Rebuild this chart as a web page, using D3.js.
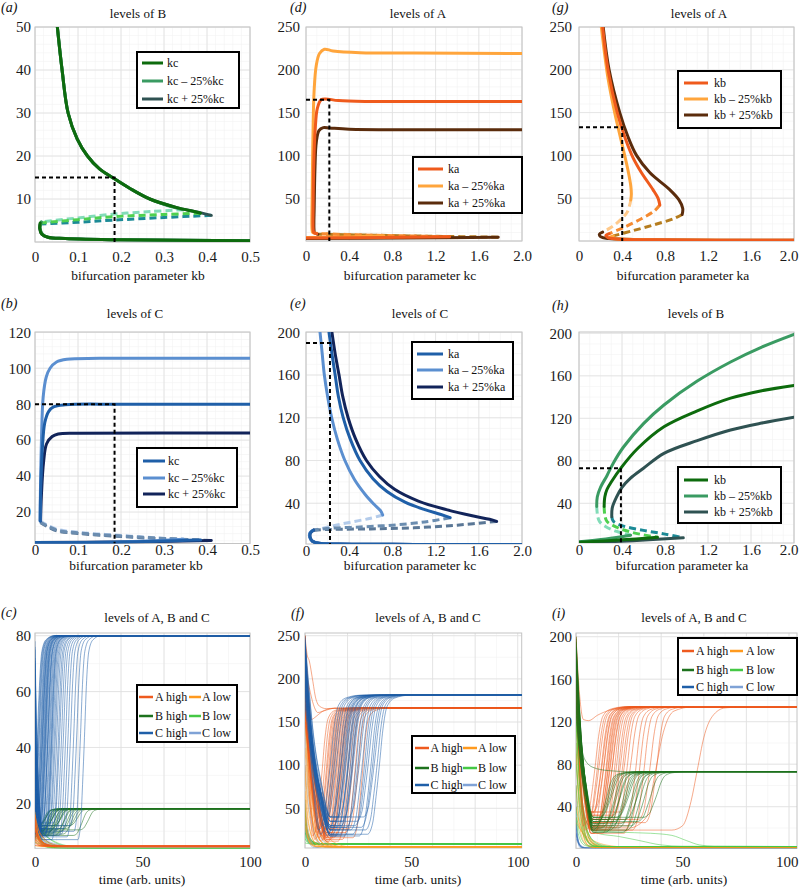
<!DOCTYPE html>
<html><head><meta charset="utf-8">
<script src="https://cdn.jsdelivr.net/npm/d3@7"></script>
<style>
body{margin:0;background:#fff}
text{font-family:"Liberation Serif","Times New Roman",serif}
</style>
</head><body>
<svg id="chart" width="799" height="888" xmlns="http://www.w3.org/2000/svg"></svg>
<script>
// ---------------- tick labels ----------------
const ticksKb = [0, 0.1, 0.2, 0.3, 0.4, 0.5];
const ticksKbLabels = ['0', '0.1', '0.2', '0.3', '0.4', '0.5'];
const ticksK2 = [0, 0.4, 0.8, 1.2, 1.6, 2.0];
const ticksK2Labels = ['0', '0.4', '0.8', '1.2', '1.6', '2.0'];
const ticksT = [0, 50, 100];
const ticksTLabels = ['0', '50', '100'];
const yTicksA = [10, 20, 30, 40, 50];
const yTicksD = [50, 100, 150, 200, 250];
const yTicksB = [20, 40, 60, 80, 100, 120];
const yTicksE = [40, 80, 120, 160, 200];
const yTicksC = [20, 40, 60, 80];
const yTicksF = [50, 100, 150, 200, 250];
const yTicksI = [40, 80, 120, 160, 200];

const legendKc = ['kc', 'kc \u2013 25%kc', 'kc + 25%kc'];
const legendKa = ['ka', 'ka \u2013 25%ka', 'ka + 25%ka'];
const legendKb = ['kb', 'kb \u2013 25%kb', 'kb + 25%kb'];
const legendTS = ['A high', 'A low', 'B high', 'B low', 'C high', 'C low'];

// ---------------- panel (a): B vs kb ----------------
const a_up_base = [[0.052,50],[0.063,40],[0.077,30],[0.098,24],[0.122,20],[0.15,17],[0.18,15],[0.22,12.5],[0.267,10],[0.33,8],[0.37,7.1],[0.385,6.7]];
const a_up_m    = [[0.052,50],[0.063,40],[0.077,30],[0.098,24],[0.122,20],[0.15,17],[0.18,15],[0.22,12.5],[0.267,10],[0.31,8.4],[0.345,7.5]];
const a_up_p    = [[0.052,50],[0.063,40],[0.077,30],[0.098,24],[0.122,20],[0.15,17],[0.18,15],[0.22,12.5],[0.267,10],[0.33,8],[0.38,6.9],[0.41,6.2]];
const a_un_m    = [[0.345,7.5],[0.27,7.1],[0.185,6.5],[0.1,5.6],[0.015,4.7]];
const a_un_base = [[0.385,6.7],[0.3,6.4],[0.185,5.9],[0.1,5.2],[0.012,4.4]];
const a_un_p    = [[0.41,6.2],[0.3,5.7],[0.185,5.1],[0.1,4.6],[0.012,4.2]];
const a_lo_m    = [[0.015,4.7],[0.012,3.3],[0.017,1.9],[0.03,1.1],[0.07,0.8],[0.2,0.5],[0.5,0.3]];
const a_lo_p    = [[0.012,4.2],[0.011,3.1],[0.016,1.8],[0.03,1.1],[0.07,0.8],[0.2,0.5],[0.5,0.3]];
const a_lo_base = [[0.012,4.4],[0.011,3.2],[0.016,1.8],[0.03,1.1],[0.07,0.8],[0.2,0.5],[0.5,0.3]];
const a_ref = [0.185, 15];

// ---------------- panel (d): A vs kc ----------------
const d_up_m    = [[0.095,9],[0.062,10],[0.056,14],[0.057,50],[0.064,120],[0.075,175],[0.095,205],[0.125,219],[0.17,224],[0.25,222],[0.5,220],[1.0,219.5],[2,219]];
const d_up_base = [[0.1,8.5],[0.072,10],[0.066,14],[0.066,40],[0.072,90],[0.085,130],[0.105,155],[0.14,165],[0.18,166],[0.3,164],[0.6,163],[1.2,163],[2,163]];
const d_up_p    = [[0.11,8],[0.08,9.5],[0.074,14],[0.076,40],[0.083,85],[0.095,115],[0.12,129],[0.16,132.5],[0.22,132],[0.4,130.5],[1,130],[2,130]];
const d_un_m    = [[0.72,6],[0.5,7],[0.3,8],[0.095,9]];
const d_un_base = [[1.33,5],[0.9,6],[0.5,7],[0.1,8.5]];
const d_un_p    = [[1.78,4.5],[1.2,5.5],[0.6,6.8],[0.11,8]];
const d_lo_m    = [[0,4.2],[0.4,4.8],[0.72,6]];
const d_lo_base = [[0,3.6],[0.7,4],[1.33,5]];
const d_lo_p    = [[0,3],[0.9,3.4],[1.78,4.5]];
const d_ref = [0.216, 165];

// ---------------- panel (g): A vs ka ----------------
const g_up_m    = [[0.208,250],[0.27,190],[0.332,150],[0.425,100],[0.46,80],[0.482,64],[0.487,55],[0.482,48]];
const g_up_base = [[0.22,250],[0.27,200],[0.356,150],[0.43,120],[0.5,98],[0.58,80],[0.688,60],[0.735,50],[0.752,42]];
const g_up_p    = [[0.225,250],[0.28,200],[0.379,150],[0.455,122],[0.535,100],[0.658,80],[0.844,60],[0.93,48],[0.965,38],[0.96,31]];
const g_un_m    = [[0.482,48],[0.45,34],[0.38,24],[0.3,16],[0.22,10.5]];
const g_un_base = [[0.752,42],[0.7,35],[0.58,26],[0.42,16],[0.28,8.5]];
const g_un_p    = [[0.96,31],[0.88,26],[0.7,19],[0.5,12],[0.32,6]];
const g_lo_m    = [[0.22,10.5],[0.19,8],[0.2,5],[0.28,2.8],[0.6,1.5],[2,0.8]];
const g_lo_base = [[0.28,8.5],[0.25,6.5],[0.27,4],[0.35,2.4],[0.7,1.4],[2,0.8]];
const g_lo_p    = [[0.32,6],[0.29,4.6],[0.32,3],[0.45,2],[0.9,1.2],[2,0.8]];
const g_ref = [0.402, 133];

// ---------------- panel (b): C vs kb ----------------
const b_up_m    = [[0.012,15],[0.0125,30],[0.015,60],[0.019,84],[0.026,95],[0.035,100],[0.05,103.5],[0.074,105],[0.15,105.5],[0.5,105.5]];
const b_up_base = [[0.012,15],[0.013,30],[0.017,55],[0.023,70],[0.032,76],[0.043,78.5],[0.07,79.7],[0.2,80],[0.5,80]];
const b_up_p    = [[0.013,15],[0.015,30],[0.02,48],[0.027,58],[0.04,62],[0.054,63.4],[0.1,63.8],[0.5,64]];
const b_un_m    = [[0.012,15],[0.05,10.5],[0.1,8.7],[0.185,7.2],[0.28,5.7],[0.345,4.8]];
const b_un_base = [[0.012,14.5],[0.05,10],[0.1,8.4],[0.185,6.9],[0.3,5.3],[0.385,4.4]];
const b_un_p    = [[0.013,14],[0.05,9.6],[0.1,8.1],[0.185,6.6],[0.3,5.1],[0.41,4.2]];
const b_lo_m    = [[0,3.0],[0.2,3.3],[0.345,4.8]];
const b_lo_base = [[0,3.0],[0.2,3.3],[0.385,4.4]];
const b_lo_p    = [[0,3.0],[0.2,3.3],[0.41,4.2]];
const b_ref = [0.185, 80];

// ---------------- panel (e): C vs kc ----------------
const e_up_m    = [[0.13,200],[0.15,180],[0.17,160],[0.2,140],[0.238,120],[0.29,100],[0.36,80],[0.45,62],[0.55,48],[0.63,39],[0.69,33],[0.71,29]];
const e_up_base = [[0.213,200],[0.24,180],[0.27,160],[0.3,140],[0.345,120],[0.41,100],[0.5,80],[0.62,63],[0.75,51],[0.917,41],[1.1,34],[1.25,29.5],[1.335,26.5]];
const e_up_p    = [[0.24,200],[0.27,180],[0.306,160],[0.34,140],[0.39,120],[0.46,100],[0.56,80],[0.68,65],[0.82,53],[1.04,42],[1.3,34],[1.55,28],[1.7,25],[1.765,23]];
const e_un_m    = [[0.71,29],[0.6,26],[0.45,23],[0.3,20],[0.15,16.5],[0.06,14.5]];
const e_un_base = [[1.335,26.5],[1.1,22.5],[0.8,19.5],[0.5,17.8],[0.22,16.5],[0.07,15]];
const e_un_p    = [[1.765,23],[1.4,19.5],[1.0,17],[0.6,16],[0.22,15.5],[0.07,14.8]];
const e_lo_m    = [[0.06,14.5],[0.035,12],[0.035,8],[0.06,4.5],[0.12,2.5],[0.3,1.8],[1,1.5],[2,1.5]];
const e_lo_base = [[0.07,15],[0.04,12],[0.038,8],[0.06,4.5],[0.12,2.5],[0.3,1.8],[1,1.5],[2,1.5]];
const e_lo_p    = [[0.07,14.8],[0.04,12],[0.038,8],[0.06,4.5],[0.12,2.5],[0.3,1.8],[1,1.5],[2,1.5]];
const e_ref = [0.222, 190];

// ---------------- panel (h): B vs ka ----------------
const h_up_m    = [[0.165,37],[0.17,46],[0.2,55],[0.26,66],[0.32,78],[0.414,93],[0.6,115],[0.79,132.5],[1.1,155],[1.41,173],[1.7,187],[2.0,199]];
const h_up_base = [[0.234,37],[0.24,46],[0.26,53],[0.3,60],[0.4,74.5],[0.55,92],[0.79,112],[1.1,127],[1.41,139],[1.7,146],[2.0,151]];
const h_up_p    = [[0.305,27.4],[0.31,36],[0.35,46],[0.4,55],[0.477,63.5],[0.6,73],[0.79,87],[1.1,99],[1.41,109],[1.7,115.5],[2.0,121]];
const h_un_m    = [[0.165,37],[0.172,29],[0.19,23],[0.25,18],[0.35,13.5],[0.48,10]];
const h_un_base = [[0.234,37],[0.24,29],[0.26,23],[0.35,17.5],[0.5,12.5],[0.73,8]];
const h_un_p    = [[0.305,27.4],[0.32,23],[0.4,19],[0.6,14.5],[0.8,11],[0.97,7.5]];
const h_lo_m    = [[0,3.8],[0.25,6.5],[0.48,10]];
const h_lo_base = [[0,3.4],[0.4,5.6],[0.73,8]];
const h_lo_p    = [[0,2.6],[0.5,4.8],[0.97,7.5]];
const h_ref = [0.39, 73];

// ---------------- time-series key-point shapes ----------------
const dropShape  = [[0,1],[0.3,0.5],[0.65,0.18],[1,0]];
const riseShape  = [[-1.4,0],[-0.8,0.08],[-0.4,0.27],[0,0.5],[0.4,0.75],[0.9,0.92],[1.8,0.98],[3.5,1]];
const decayShape = [[0,1],[0.3,0.55],[0.7,0.27],[1.2,0.1],[2,0.02],[3,0]];

// ---------------- panel (c) ----------------
const c_Chigh_start  = [12,8,15,20,25,78,75,72,70,66,62,58,55,52,48,45,42,40,38,35,32,30,28,25,22,20,18,15,12,10,76,68,60,54,46,36,26,16,71,50];
const c_Chigh_switch = [1.2,1.5,1.8,2.1,2.5,2.8,3.1,3.4,3.7,4.0,4.3,4.6,4.9,5.2,5.5,5.9,6.3,6.7,7.1,7.5,8.0,8.5,9.0,9.6,10.2,10.9,11.6,12.4,13.3,14.3,15.4,16.6,18.0,19.5,21.2,23.0,3.6,4.8,6.1,7.8];
const c_Chigh_low    = [9,11,8,12,10,7,13,9.5,10.5,8.5];
const c_Bhigh_start  = [17,16,15,14,13,12,11,10,9,8,16.5,15.5,14.5,13.5,12.5,11.5,10.5,9.5,8.5,7.5,17,15,13,11,9,16,14];
const c_Bhigh_switch = [4,4.4,4.8,5.2,5.6,6,6.5,7,7.5,8,8.5,9,9.5,10,10.6,11.2,11.8,12.5,13.2,14,15,16,17,18.5,20,22,25];
const c_Bhigh_low    = [10,9,11,12,8.5,10.5,9.5];
const c_Blow_start   = [17,15,13,11,9,16,14,12,10,8,6,15,12,10];
const c_Blow_tau     = [3,4,5,6,8,10,12,4,6,9,14,7,5,11];
const c_Ahigh_start  = [16,14,12,10,8,6,15,13,11,9,7,5];
const c_Ahigh_tau    = [2,3,4,5,3,2,6,4,3,5,2,4];
const c_Alow_start   = [17,15,13,11,9,7,5,16,12,8,14];
const c_Alow_tau     = [2.5,3.5,2,4,3,2,1.5,5,3,2.5,4];
const c_Clow_start   = [12,9,15,7,10];
const c_Clow_tau     = [6,10,5,8,12];
const c_levels = {Chigh: 80, Bhigh: 18.1, Blow: 3.9, Ahigh: 4.7, Alow: 4.5, Clow: 4.2};

// ---------------- panel (f) ----------------
const f_Chigh_start  = [250,245,240,235,230,225,220,215,210,205,200,195,190,248,238,228,218,208,198,188,242,232,222,212,202,192,185,180,175,170];
const f_Chigh_switch = [12,13,14,15,16,17,17.5,18,18.5,19,19.5,20,20.5,21,21.5,22,22.5,23,24,25,26,27,28,29,30,31,32,33,34,35];
const f_Chigh_low    = [25,20,30,35,18,28,40];
const f_Ahigh_start  = [250,240,230,220,210,200,190,180,170,160,150,245,235,225,215,205,195,185,175,165,155,248,228,208,188,168];
const f_Ahigh_switch = [8,9,10,10.5,11,11.5,12,12.5,13,13.5,14,14.5,15,15.5,16,16.5,17,17.5,18,19,20,21,22,23.5,25,27];
const f_Ahigh_low    = [18,14,22,26,16,20,12];
const f_Ahigh_extra  = [
  [[0,250],[1,228],[2,221],[3.5,200],[5,178],[7,168],[10,165.5],[14,166]],
  [[0,250],[1.5,185],[3,153],[5,156],[8,162],[12,165.5],[16,166]],
  [[0,215],[2,190],[4,170],[6,161],[9,163],[14,166]]
];
const f_Alow_start   = [250,220,200,180,150,120,90,60,40,30,240,160,100,70,50];
const f_Alow_tau     = [4,5,3.5,6,4.5,5,3,2.5,2,3,7,6,4,3.5,2];
const f_Blow_start   = [60,50,45,40,35,30,25,20,15,10,55,42,28];
const f_Blow_tau     = [1.5,2,2.5,1.2,3,2,1.8,1.5,2,3,1,2.2,4];
const f_Bhigh_start  = [48,38,22];
const f_Bhigh_tau    = [2,3,4];
const f_Clow_start   = [230,200,150,100,60,40,30];
const f_Clow_tau     = [5,6,4,5,3,3,2.5];
const f_levels = {Chigh: 181, Ahigh: 166, Alow: 5.5, Blow: 8.6, Bhigh: 8.6, Clow: 3.5};

// ---------------- panel (i) ----------------
const i_Ahigh_start  = [200,195,190,185,180,175,170,165,160,155,150,198,188,178,168,158,148,193,183,173,163,153,145,140,196,186,176,166];
const i_Ahigh_switch = [9,10,11,12,12.5,13,13.5,14,14.5,15,15.5,16,16.5,17,17.5,18,19,20,21,22,23,24,26,28,30,32,35,38];
const i_Ahigh_low    = [22,18,28,25,32,20,35,15];
const i_Ahigh_extra  = [
  [[0,160],[3,40],[6,20],[20,18],[45,18],[50,22],[54,45],[57,75],[60,105],[64,125],[70,133],[80,134]],
  [[0,200],[1.5,150],[3.5,122],[6,121],[10,126],[16,131],[25,134]],
  [[0,175],[3,45],[6,22],[25,20],[33,30],[37,70],[41,110],[46,130],[55,134]]
];
const i_Bhigh_start  = [200,190,180,170,160,150,140,130,195,185,175,165,155,145,135,125,198,178,158,138];
const i_Bhigh_switch = [14,15,16,17,18,19,20,21,22,23,24,25,26,27,28,29,30,32,35,38];
const i_Bhigh_low    = [18,22,26,30,20,24,16,28];
const i_Bhigh_extra  = [[[0,190],[2,110],[4,85],[8,77],[15,74],[25,73]]];
const i_Blow_start   = [200,150,120,100,80,60,40,30];
const i_Blow_tau     = [3,4,5,3.5,6,4,3,2.5];
const i_Blow_extra   = [
  [[0,190],[3,45],[7,18],[20,16],[35,15],[45,13],[52,8],[58,4],[65,2.8]],
  [[0,120],[4,30],[10,15],[20,12],[30,8],[40,4],[50,2.8]]
];
const i_Alow_start   = [190,170,150,120,90,60,40,30,25,180,140,100];
const i_Alow_tau     = [3,4,3.5,5,4,3,6,8,12,2.5,4.5,3];
const i_Clow_start   = [40,30,20,15,10,60];
const i_Clow_tau     = [1,1.5,2,2.5,3,0.8];
const i_Chigh_start  = [25,15];
const i_Chigh_tau    = [1.5,2];
const i_levels = {Ahigh: 134, Bhigh: 73, Blow: 2.5, Alow: 1.5, Clow: 1, Chigh: 1};

// ---------------- colours ----------------
const COL = {
  green: {base:'#0d6b0d', m:'#3a9b62', p:'#2f5252', dbase:'#4fd04f', dm:'#82dcb8', dp:'#1b8a96'},
  orange:{base:'#ef5a1c', m:'#ffa53c', p:'#5b2c0c', dbase:'#f58a30', dm:'#ffc98a', dp:'#b57c1e'},
  blue:  {base:'#1f5fa8', m:'#5b8fd0', p:'#12245a', dbase:'#6b8db0', dm:'#b3cbea', dp:'#5a7796'}
};
const TS = {Ahigh:'#ee5a1f', Alow:'#ff9a1f', Bhigh:'#1d721d', Blow:'#45c845', Chigh:'#1f5fa8', Clow:'#7fa2d6'};

// ---------------- builders ----------------
function riseTraj(start, low, tSw, w, plateau, dipMax, tEnd) {
  const tDip = Math.max(0.3, Math.min(dipMax, tSw - 1.4 * w));
  const pts = dropShape.map(([f, v]) => [f * tDip, low + v * (start - low)]);
  riseShape.forEach(([f, v]) => {
    const t = tSw + f * w;
    if (t > tDip + 0.1) pts.push([t, low + v * (plateau - low)]);
  });
  if (pts[pts.length - 1][0] < tEnd) pts.push([tEnd, plateau]);
  return pts;
}
function decayTraj(start, tau, plateau, tEnd) {
  const pts = decayShape.map(([f, v]) => [f * tau, plateau + v * (start - plateau)]);
  pts.push([tEnd, plateau]);
  return pts;
}
function extend(pts, level, tEnd) { return pts.concat([[tEnd, level]]); }

const svg = d3.select('#chart');
const defs = svg.append('defs');
const FONT = '"Liberation Serif","Times New Roman",serif';
const PAGE_RIGHT = 798;

function gridValues(lo, hi, step) {
  const a = Math.ceil(lo / step - 1e-6), b = Math.floor(hi / step + 1e-6);
  return d3.range(a, b + 1).map(k => +(k * step).toFixed(6));
}

function drawPanel(p) {
  const [L, T, R, B] = p.rect;
  const g = svg.append('g');
  const x = d3.scaleLinear().domain(p.xDomain).range(p.xRange);
  const y = d3.scaleLinear().domain(p.yDomain).range(p.yRange);
  const clipId = 'clip-' + p.id;
  defs.append('clipPath').attr('id', clipId).append('rect')
    .attr('x', L).attr('y', T).attr('width', R - L).attr('height', B - T);

  const xLo = x.invert(L), xHi = x.invert(R), yLo = y.invert(B), yHi = y.invert(T);
  const gg = g.append('g');
  gridValues(xLo, xHi, p.gridX[1]).forEach(v => gg.append('line').attr('x1', x(v)).attr('x2', x(v)).attr('y1', T).attr('y2', B).attr('stroke', '#f1f1f1').attr('stroke-width', 0.6));
  gridValues(yLo, yHi, p.gridY[1]).forEach(v => gg.append('line').attr('y1', y(v)).attr('y2', y(v)).attr('x1', L).attr('x2', R).attr('stroke', '#f1f1f1').attr('stroke-width', 0.6));
  gridValues(xLo, xHi, p.gridX[0]).forEach(v => gg.append('line').attr('x1', x(v)).attr('x2', x(v)).attr('y1', T).attr('y2', B).attr('stroke', '#e0e0e0').attr('stroke-width', 0.8));
  gridValues(yLo, yHi, p.gridY[0]).forEach(v => gg.append('line').attr('y1', y(v)).attr('y2', y(v)).attr('x1', L).attr('x2', R).attr('stroke', '#e0e0e0').attr('stroke-width', 0.8));
  g.append('rect').attr('x', L).attr('y', T).attr('width', R - L).attr('height', B - T)
    .attr('fill', 'none').attr('stroke', '#c4c4c4').attr('stroke-width', 1);

  // axes
  const xAxis = d3.axisBottom(x).tickValues(p.xTicks).tickFormat((d, i) => p.xTickLabels[i]).tickSize(0).tickPadding(p.xPad);
  const xa = g.append('g').attr('transform', `translate(0,${B})`).call(xAxis);
  xa.select('.domain').remove();
  xa.selectAll('text').attr('font-family', FONT).attr('font-size', 15).attr('fill', '#1a1a1a');
  xa.selectAll('.tick').each(function(d) {
    const t = d3.select(this).select('text');
    const w = t.node().getComputedTextLength();
    if (x(d) + w / 2 > PAGE_RIGHT) t.attr('text-anchor', 'end').attr('x', PAGE_RIGHT - x(d));
  });
  const yAxis = d3.axisLeft(y).tickValues(p.yTicks).tickFormat(d3.format('d')).tickSize(0).tickPadding(L - p.yLabelRight);
  const ya = g.append('g').attr('transform', `translate(${L},0)`).call(yAxis);
  ya.select('.domain').remove();
  ya.selectAll('text').attr('font-family', FONT).attr('font-size', 15).attr('fill', '#1a1a1a');

  // curves
  const cg = g.append('g').attr('clip-path', `url(#${clipId})`);
  const line = d3.line().x(d => x(d[0])).y(d => y(d[1]));
  if (p.bif) {
    line.curve(d3.curveCatmullRom.alpha(0.5));
    p.curves.forEach(c => {
      cg.append('path').attr('d', line(c.data)).attr('fill', 'none')
        .attr('stroke', c.color).attr('stroke-width', 3)
        .attr('stroke-linecap', c.dash ? 'butt' : 'round').attr('stroke-linejoin', 'round')
        .attr('stroke-dasharray', c.dash ? '7,4' : null);
    });
    const [rx, ry] = p.ref;
    cg.append('path').attr('d', `M${L},${y(ry)}H${x(rx)}V${B}`).attr('fill', 'none')
      .attr('stroke', '#000').attr('stroke-width', 2).attr('stroke-dasharray', '4,3');
  } else {
    line.curve(d3.curveMonotoneX);
    p.groups.forEach(gr => {
      gr.trajs.forEach(t => {
        cg.append('path').attr('d', line(t)).attr('fill', 'none')
          .attr('stroke', gr.color).attr('stroke-width', 0.8).attr('stroke-opacity', 0.65);
      });
    });
  }

  // legend
  const lg = p.legend;
  g.append('rect').attr('x', lg.box[0]).attr('y', lg.box[1]).attr('width', lg.box[2] - lg.box[0]).attr('height', lg.box[3] - lg.box[1])
    .attr('fill', '#fff').attr('stroke', '#000').attr('stroke-width', 2);
  lg.items.forEach(it => {
    g.append('line').attr('x1', it.lx[0]).attr('x2', it.lx[1]).attr('y1', it.y).attr('y2', it.y)
      .attr('stroke', it.color).attr('stroke-width', lg.lw);
    g.append('text').attr('x', it.tx).attr('y', it.y + 4).attr('font-size', 12).attr('fill', '#111').text(it.label);
  });

  // titles
  g.append('text').attr('x', p.title[1]).attr('y', p.title[2]).attr('text-anchor', 'middle').attr('font-size', 13).attr('fill', '#111').text(p.title[0]);
  g.append('text').attr('x', p.tag[1]).attr('y', p.tag[2]).attr('font-size', 14).attr('font-style', 'italic').attr('fill', '#111').text(p.tag[0]);
  g.append('text').attr('x', p.xLabel[1]).attr('y', p.xLabel[2]).attr('text-anchor', 'middle').attr('font-size', 13.5).attr('fill', '#111').text(p.xLabel[0]);
}

function bifCurves(fam, up, un, lo) {
  const C = COL[fam];
  return [
    {data: un[1], color: C.dm, dash: true},
    {data: un[2], color: C.dp, dash: true},
    {data: un[0], color: C.dbase, dash: true},
    {data: lo[2], color: C.p}, {data: lo[1], color: C.m}, {data: lo[0], color: C.base},
    {data: up[2], color: C.p}, {data: up[1], color: C.m}, {data: up[0], color: C.base}
  ];
}
function bifLegend(labels, fam, box, rows, lx, tx) {
  const C = COL[fam];
  const cols = [C.base, C.m, C.p];
  return {box, lw: 3, items: labels.map((l, i) => ({label: l, color: cols[i], y: rows[i], lx, tx}))};
}
function tsLegend(box, rows, c1, c2) {
  const cols = [TS.Ahigh, TS.Alow, TS.Bhigh, TS.Blow, TS.Chigh, TS.Clow];
  return {box, lw: 2.5, items: legendTS.map((l, i) => {
    const c = i % 2 === 0 ? c1 : c2;
    return {label: l, color: cols[i], y: rows[Math.floor(i / 2)], lx: [c[0], c[1]], tx: c[2]};
  })};
}

// ---------------- bifurcation panels ----------------
drawPanel({id:'a', bif:true, rect:[35,27,250,242], xDomain:[0,0.5], xRange:[35,250], yDomain:[0,50], yRange:[242,27],
  xTicks:ticksKb, xTickLabels:ticksKbLabels, yTicks:yTicksA, xPad:9, yLabelRight:31, gridX:[0.1,0.02], gridY:[10,2],
  curves: bifCurves('green', [a_up_base,a_up_m,a_up_p], [a_un_base,a_un_m,a_un_p], [a_lo_base,a_lo_m,a_lo_p]), ref:a_ref,
  legend: bifLegend(legendKc, 'green', [137,52,239,108], [63,81,99], [142,163], 167),
  title:['levels of B',138,18], tag:['(a)',1,12], xLabel:['bifurcation parameter kb',138,280]});

drawPanel({id:'d', bif:true, rect:[306,27,522,241], xDomain:[0,2], xRange:[306,522], yDomain:[0,250], yRange:[241,27],
  xTicks:ticksK2, xTickLabels:ticksK2Labels, yTicks:yTicksD, xPad:9, yLabelRight:300, gridX:[0.4,0.1], gridY:[50,10],
  curves: bifCurves('orange', [d_up_base,d_up_m,d_up_p], [d_un_base,d_un_m,d_un_p], [d_lo_base,d_lo_m,d_lo_p]), ref:d_ref,
  legend: bifLegend(legendKa, 'orange', [413,157,522,213], [169,186,203], [418,443], 448),
  title:['levels of A',418,18], tag:['(d)',290,12], xLabel:['bifurcation parameter kc',410,280]});

drawPanel({id:'g', bif:true, rect:[579,27,794,241], xDomain:[0,2], xRange:[579,794], yDomain:[0,250], yRange:[241,27],
  xTicks:ticksK2, xTickLabels:ticksK2Labels, yTicks:yTicksD, xPad:9, yLabelRight:572, gridX:[0.4,0.1], gridY:[50,10],
  curves: bifCurves('orange', [g_up_base,g_up_m,g_up_p], [g_un_base,g_un_m,g_un_p], [g_lo_base,g_lo_p,g_lo_m]), ref:g_ref,
  legend: bifLegend(legendKb, 'orange', [678,71,781,128], [83,99,115], [684,708], 714),
  title:['levels of A',699,18], tag:['(g)',552,12], xLabel:['bifurcation parameter ka',683,280]});

drawPanel({id:'b', bif:true, rect:[35,332,250,543.5], xDomain:[0,0.5], xRange:[35,250], yDomain:[0,120], yRange:[548,332.3],
  xTicks:ticksKb, xTickLabels:ticksKbLabels, yTicks:yTicksB, xPad:1, yLabelRight:31, gridX:[0.1,0.02], gridY:[20,4],
  curves: bifCurves('blue', [b_up_base,b_up_m,b_up_p], [b_un_base,b_un_m,b_un_p], [b_lo_base,b_lo_m,b_lo_p]), ref:b_ref,
  legend: bifLegend(legendKc, 'blue', [137,448,237,507], [461,478,494], [143,165], 168),
  title:['levels of C',135,318], tag:['(b)',1,308], xLabel:['bifurcation parameter kb',136,570]});

drawPanel({id:'e', bif:true, rect:[306,332,522,544], xDomain:[0,2], xRange:[306,522], yDomain:[0,200], yRange:[546,332.3],
  xTicks:ticksK2, xTickLabels:ticksK2Labels, yTicks:yTicksE, xPad:1, yLabelRight:300, gridX:[0.4,0.1], gridY:[40,10],
  curves: bifCurves('blue', [e_up_base,e_up_m,e_up_p], [e_un_base,e_un_m,e_un_p], [e_lo_base,e_lo_m,e_lo_p]), ref:e_ref,
  legend: bifLegend(legendKa, 'blue', [412,342,513,399], [354,370,387], [417,443], 448),
  title:['levels of C',420,318], tag:['(e)',290,308], xLabel:['bifurcation parameter kc',410,570]});

drawPanel({id:'h', bif:true, rect:[579,332,794,543], xDomain:[0,2], xRange:[579,794], yDomain:[0,200], yRange:[545.8,333.3],
  xTicks:ticksK2, xTickLabels:ticksK2Labels, yTicks:yTicksE, xPad:1, yLabelRight:572, gridX:[0.4,0.1], gridY:[40,10],
  curves: bifCurves('green', [h_up_base,h_up_m,h_up_p], [h_un_base,h_un_m,h_un_p], [h_lo_base,h_lo_m,h_lo_p]), ref:h_ref,
  legend: bifLegend(legendKb, 'green', [678,467,781,523], [480,496,512], [684,708], 714),
  title:['levels of B',696,318], tag:['(h)',552,310], xLabel:['bifurcation parameter ka',682,570]});

// ---------------- time-series panels ----------------
const cEnd = 100, fEnd = 102, iEnd = 105;
const cGroups = [
  {color: TS.Blow,  trajs: c_Blow_start.map((s,i) => decayTraj(s, c_Blow_tau[i], c_levels.Blow, cEnd))},
  {color: TS.Bhigh, trajs: c_Bhigh_start.map((s,i) => riseTraj(s, c_Bhigh_low[i % c_Bhigh_low.length], c_Bhigh_switch[i], 3, c_levels.Bhigh, 4, cEnd))},
  {color: TS.Clow,  trajs: c_Clow_start.map((s,i) => decayTraj(s, c_Clow_tau[i], c_levels.Clow, cEnd))},
  {color: TS.Chigh, trajs: c_Chigh_start.map((s,i) => riseTraj(s, c_Chigh_low[i % c_Chigh_low.length], c_Chigh_switch[i], 2.2, c_levels.Chigh, 3, cEnd))},
  {color: TS.Alow,  trajs: c_Alow_start.map((s,i) => decayTraj(s, c_Alow_tau[i], c_levels.Alow, cEnd))},
  {color: TS.Ahigh, trajs: c_Ahigh_start.map((s,i) => decayTraj(s, c_Ahigh_tau[i], c_levels.Ahigh, cEnd))}
];
drawPanel({id:'c', bif:false, rect:[35,633,250,848.3], xDomain:[0,100], xRange:[35,250], yDomain:[0,80], yRange:[859.2,635.7],
  xTicks:ticksT, xTickLabels:ticksTLabels, yTicks:yTicksC, xPad:8, yLabelRight:31, gridX:[20,10], gridY:[20,10],
  groups: cGroups,
  legend: tsLegend([137,685,237,742], [697,716,733], [139,153,155], [189,201,202]),
  title:['levels of A, B and C',157,622], tag:['(c)',1,617], xLabel:['time (arb. units)',142,884]});

const fGroups = [
  {color: TS.Bhigh, trajs: f_Bhigh_start.map((s,i) => decayTraj(s, f_Bhigh_tau[i], f_levels.Bhigh, fEnd))},
  {color: TS.Blow,  trajs: f_Blow_start.map((s,i) => decayTraj(s, f_Blow_tau[i], f_levels.Blow, fEnd))},
  {color: TS.Clow,  trajs: f_Clow_start.map((s,i) => decayTraj(s, f_Clow_tau[i], f_levels.Clow, fEnd))},
  {color: TS.Alow,  trajs: f_Alow_start.map((s,i) => decayTraj(s, f_Alow_tau[i], f_levels.Alow, fEnd))},
  {color: TS.Ahigh, trajs: f_Ahigh_start.map((s,i) => riseTraj(s, f_Ahigh_low[i % f_Ahigh_low.length], f_Ahigh_switch[i], 3.2, f_levels.Ahigh, 10, fEnd))
      .concat(f_Ahigh_extra.map(t => extend(t, f_levels.Ahigh, fEnd)))},
  {color: TS.Chigh, trajs: f_Chigh_start.map((s,i) => riseTraj(s, f_Chigh_low[i % f_Chigh_low.length], f_Chigh_switch[i], 4, f_levels.Chigh, 12, fEnd))}
];
drawPanel({id:'f', bif:false, rect:[305,633,521.7,848], xDomain:[0,100], xRange:[305,517.7], yDomain:[0,250], yRange:[851.5,635.7],
  xTicks:ticksT, xTickLabels:ticksTLabels, yTicks:yTicksF, xPad:8, yLabelRight:300, gridX:[20,10], gridY:[50,25],
  groups: fGroups,
  legend: tsLegend([412,736,515,793], [748,768,785], [415,429,430.5], [463,477,478]),
  title:['levels of A, B and C',428,622], tag:['(f)',291,618], xLabel:['time (arb. units)',418,884]});

const iGroups = [
  {color: TS.Clow,  trajs: i_Clow_start.map((s,i) => decayTraj(s, i_Clow_tau[i], i_levels.Clow, iEnd))},
  {color: TS.Chigh, trajs: i_Chigh_start.map((s,i) => decayTraj(s, i_Chigh_tau[i], i_levels.Chigh, iEnd))},
  {color: TS.Alow,  trajs: i_Alow_start.map((s,i) => decayTraj(s, i_Alow_tau[i], i_levels.Alow, iEnd))},
  {color: TS.Blow,  trajs: i_Blow_start.map((s,i) => decayTraj(s, i_Blow_tau[i], i_levels.Blow, iEnd))
      .concat(i_Blow_extra.map(t => extend(t, i_levels.Blow, iEnd)))},
  {color: TS.Ahigh, trajs: i_Ahigh_start.map((s,i) => riseTraj(s, i_Ahigh_low[i % i_Ahigh_low.length], i_Ahigh_switch[i], 4, i_levels.Ahigh, 7, iEnd))
      .concat(i_Ahigh_extra.map(t => extend(t, i_levels.Ahigh, iEnd)))},
  {color: TS.Bhigh, trajs: i_Bhigh_start.map((s,i) => riseTraj(s, i_Bhigh_low[i % i_Bhigh_low.length], i_Bhigh_switch[i], 4.5, i_levels.Bhigh, 8, iEnd))
      .concat(i_Bhigh_extra.map(t => extend(t, i_levels.Bhigh, iEnd)))}
];
drawPanel({id:'i', bif:false, rect:[576,633,797,848.3], xDomain:[0,100], xRange:[576,789], yDomain:[0,200], yRange:[849.2,636.7],
  xTicks:ticksT, xTickLabels:ticksTLabels, yTicks:yTicksI, xPad:8, yLabelRight:572, gridX:[20,10], gridY:[40,20],
  groups: iGroups,
  legend: tsLegend([678,638,797,695], [651,670,687], [682,694,696], [730,743,746]),
  title:['levels of A, B and C',694,622], tag:['(i)',552,618], xLabel:['time (arb. units)',684,884]});
</script>
</body></html>
